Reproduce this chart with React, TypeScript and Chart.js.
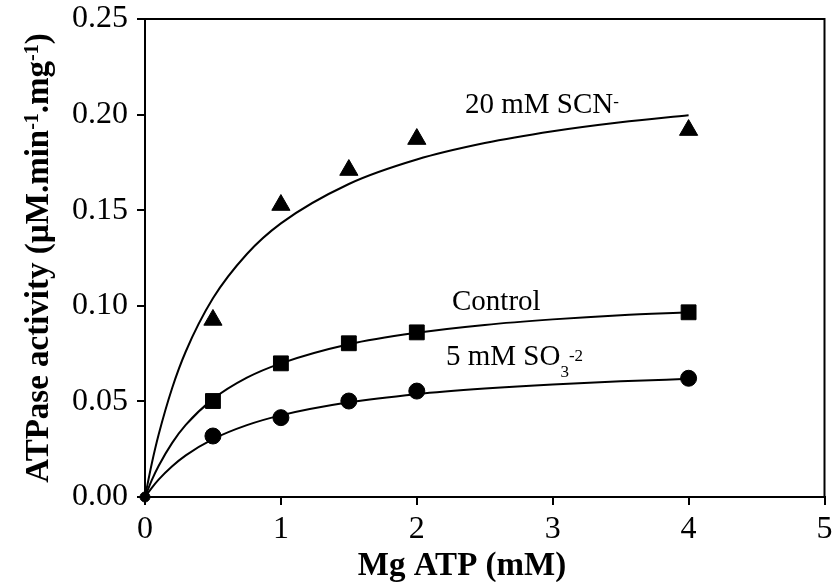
import React, { useEffect, useRef } from "react";
import { Chart, registerables } from "chart.js";

Chart.register(...registerables);

// ---- data ----
const X_TICKS = [0, 1, 2, 3, 4, 5];
const X_TICK_LABELS = ["0", "1", "2", "3", "4", "5"];
const Y_TICKS = [0, 0.05, 0.1, 0.15, 0.2, 0.25];
const Y_TICK_LABELS = ["0.00", "0.05", "0.10", "0.15", "0.20", "0.25"];

// measured points (Mg ATP, mM)
const pointX = [0.5, 1, 1.5, 2, 4];
const scnPoints = [0.0926, 0.1527, 0.171, 0.1872, 0.1919];
const controlPoints = [0.0502, 0.0699, 0.0804, 0.0861, 0.0966];
const sulfitePoints = [0.0319, 0.0415, 0.0502, 0.0554, 0.0621];
const originX = [0];
const originY = [0];

// fitted curves
const curveX = [0, 0.05, 0.1, 0.2, 0.3, 0.5, 0.75, 1, 1.5, 2, 2.5, 3, 3.5, 4];
const scnCurve = [0, 0.0175, 0.0325, 0.057, 0.0761, 0.1039, 0.1271, 0.1431, 0.1637, 0.1765, 0.1851, 0.1913, 0.196, 0.1997];
const controlCurve = [0, 0.0088, 0.0162, 0.0283, 0.0377, 0.0512, 0.0624, 0.0699, 0.0799, 0.0859, 0.09, 0.0929, 0.0951, 0.0966];
const sulfiteCurve = [0, 0.0048, 0.0091, 0.0161, 0.0218, 0.0303, 0.0376, 0.0427, 0.0495, 0.0538, 0.0567, 0.0589, 0.0605, 0.0618];

const FAMILY = '"Liberation Serif", "Times New Roman", Times, serif';

type Run = { t: string; sup?: boolean; sub?: boolean };

function drawRuns(
  ctx: CanvasRenderingContext2D,
  runs: Run[],
  x: number,
  y: number,
  size: number,
  weight: string,
  align: "left" | "center",
  supRaise: number,
  subDrop: number
) {
  const small = Math.round(size * 0.6);
  const fontFor = (r: Run) => `${weight} ${r.sup || r.sub ? small : size}px ${FAMILY}`;
  const widths = runs.map((r) => {
    ctx.font = fontFor(r);
    return ctx.measureText(r.t).width;
  });
  const total = widths.reduce((a, b) => a + b, 0);
  let cx = align === "center" ? x - total / 2 : x;
  ctx.textAlign = "left";
  ctx.textBaseline = "alphabetic";
  runs.forEach((r, i) => {
    ctx.font = fontFor(r);
    const dy = r.sup ? -size * supRaise : r.sub ? size * subDrop : 0;
    ctx.fillText(r.t, cx, y + dy);
    cx += widths[i];
  });
}

const textPlugin = {
  id: "textPlugin",
  afterDraw(chart: any) {
    const ctx: CanvasRenderingContext2D = chart.ctx;
    const { left, top, right, bottom } = chart.chartArea;
    const xs = chart.scales.x;
    const ys = chart.scales.y;
    ctx.save();
    // frame
    ctx.strokeStyle = "#000";
    ctx.lineWidth = 2;
    ctx.strokeRect(left, top, right - left, bottom - top);
    ctx.fillStyle = "#000";

    // series annotations
    drawRuns(ctx, [{ t: "20 mM SCN" }, { t: "-", sup: true }],
      xs.getPixelForValue(2.354), ys.getPixelForValue(0.2008), 29, "normal", "left", 0.2, 0.4);
    drawRuns(ctx, [{ t: "Control" }],
      xs.getPixelForValue(2.259), ys.getPixelForValue(0.0978), 29, "normal", "left", 0.15, 0.4);
    drawRuns(ctx, [{ t: "5 mM SO" }, { t: "3", sub: true }, { t: "-2", sup: true }],
      xs.getPixelForValue(2.215), ys.getPixelForValue(0.069), 29, "normal", "left", 0.15, 0.4);

    // x title
    drawRuns(ctx, [{ t: "Mg ATP (mM)" }], 462, 575, 33, "bold", "center", 0.3, 0.3);

    // y title (rotated)
    ctx.save();
    ctx.translate(48, (top + bottom) / 2);
    ctx.rotate(-Math.PI / 2);
    drawRuns(
      ctx,
      [
        { t: "ATPase activity (\u00B5M.min" },
        { t: "-1", sup: true },
        { t: ".mg" },
        { t: "-1", sup: true },
        { t: ")" },
      ],
      0, 0, 33, "bold", "center", 0.3, 0.3
    );
    ctx.restore();
    ctx.restore();
  },
};

export default function App() {
  const ref = useRef<HTMLCanvasElement | null>(null);

  useEffect(() => {
    if (!ref.current) return;
    const mk = (xv: number[], yv: number[]) => xv.map((x, i) => ({ x, y: yv[i] }));
    const curveStyle = {
      showLine: true,
      pointRadius: 0,
      pointHoverRadius: 0,
      borderColor: "#000",
      borderWidth: 2,
      cubicInterpolationMode: "monotone" as const,
      fill: false,
      clip: false as any,
    };
    const markerStyle = {
      showLine: false,
      backgroundColor: "#000",
      borderColor: "#000",
      borderWidth: 1,
      clip: false as any,
    };
    const tickFont = { family: FAMILY, size: 32 };
    const chart = new Chart(ref.current, {
      type: "scatter",
      data: {
        datasets: [
          { label: "20 mM SCN- fit", data: mk(curveX, scnCurve), ...curveStyle },
          { label: "Control fit", data: mk(curveX, controlCurve), ...curveStyle },
          { label: "5 mM SO3-2 fit", data: mk(curveX, sulfiteCurve), ...curveStyle },
          { label: "20 mM SCN-", data: mk(pointX, scnPoints), pointStyle: "triangle", pointRadius: 10.5, ...markerStyle },
          { label: "Control", data: mk(pointX, controlPoints), pointStyle: "rect", pointRadius: 10.5, ...markerStyle },
          { label: "5 mM SO3-2", data: mk(pointX, sulfitePoints), pointStyle: "circle", pointRadius: 8, ...markerStyle },
          { label: "origin", data: mk(originX, originY), pointStyle: "circle", pointRadius: 5, ...markerStyle },
        ] as any,
      },
      options: {
        animation: false,
        responsive: false,
        devicePixelRatio: 1,
        layout: { padding: { top: 19, right: 8, left: 0, bottom: 0 } },
        plugins: { legend: { display: false }, tooltip: { enabled: false }, title: { display: false } },
        events: [],
        scales: {
          x: {
            type: "linear",
            min: 0,
            max: 5,
            afterBuildTicks: (s: any) => {
              s.ticks = X_TICKS.map((v) => ({ value: v }));
            },
            afterFit: (s: any) => {
              s.height = 85;
              s.paddingLeft = 0;
              s.paddingRight = 0;
            },
            ticks: {
              color: "#000",
              font: tickFont,
              padding: 5,
              maxRotation: 0,
              autoSkip: false,
              callback: (_v: any, i: number) => X_TICK_LABELS[i],
            },
            grid: { drawOnChartArea: false, drawTicks: true, tickLength: 8, color: "#000", lineWidth: 2 },
            border: { display: true, color: "#000", width: 2 },
          },
          y: {
            type: "linear",
            min: 0,
            max: 0.25,
            afterBuildTicks: (s: any) => {
              s.ticks = Y_TICKS.map((v) => ({ value: v }));
            },
            afterFit: (s: any) => {
              s.width = 145;
              s.paddingTop = 0;
              s.paddingBottom = 0;
            },
            ticks: {
              color: "#000",
              font: tickFont,
              padding: 9,
              autoSkip: false,
              callback: (_v: any, i: number) => Y_TICK_LABELS[i],
            },
            grid: { drawOnChartArea: false, drawTicks: true, tickLength: 8, color: "#000", lineWidth: 2 },
            border: { display: true, color: "#000", width: 2 },
          },
        },
      } as any,
      plugins: [textPlugin],
    });
    return () => chart.destroy();
  }, []);

  return (
    <div style={{ position: "fixed", left: 0, top: 0, width: 836, height: 582, background: "#fff" }}>
      <canvas ref={ref} width={836} height={582} style={{ display: "block", width: 836, height: 582 }} />
    </div>
  );
}
